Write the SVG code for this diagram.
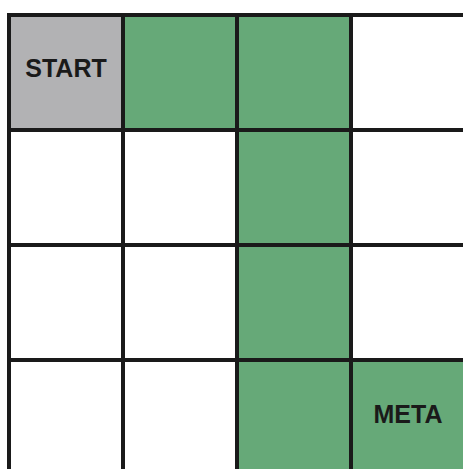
<svg xmlns="http://www.w3.org/2000/svg" width="463" height="469" viewBox="0 0 463 469">
<style>
.c{stroke:#1a1a1a;stroke-width:4;}
.w{fill:#ffffff;}
.g{fill:#66a978;}
.s{fill:#b2b2b4;}
.t{font-family:"Liberation Sans",Arial,sans-serif;font-weight:bold;font-size:25px;fill:#1a1a1a;text-anchor:middle;}
</style>
<rect width="463" height="469" fill="#ffffff"/>
<g id="cell-0-0"><rect class="c s" x="9" y="15" width="114" height="115"/><text class="t" x="66" y="77">START</text></g>
<g id="cell-0-1"><rect class="c g" x="123" y="15" width="114" height="115"/></g>
<g id="cell-0-2"><rect class="c g" x="237" y="15" width="114" height="115"/></g>
<g id="cell-0-3"><rect class="c w" x="351" y="15" width="114" height="115"/></g>
<g id="cell-1-0"><rect class="c w" x="9" y="130" width="114" height="115"/></g>
<g id="cell-1-1"><rect class="c w" x="123" y="130" width="114" height="115"/></g>
<g id="cell-1-2"><rect class="c g" x="237" y="130" width="114" height="115"/></g>
<g id="cell-1-3"><rect class="c w" x="351" y="130" width="114" height="115"/></g>
<g id="cell-2-0"><rect class="c w" x="9" y="245" width="114" height="115"/></g>
<g id="cell-2-1"><rect class="c w" x="123" y="245" width="114" height="115"/></g>
<g id="cell-2-2"><rect class="c g" x="237" y="245" width="114" height="115"/></g>
<g id="cell-2-3"><rect class="c w" x="351" y="245" width="114" height="115"/></g>
<g id="cell-3-0"><rect class="c w" x="9" y="360" width="114" height="115"/></g>
<g id="cell-3-1"><rect class="c w" x="123" y="360" width="114" height="115"/></g>
<g id="cell-3-2"><rect class="c g" x="237" y="360" width="114" height="115"/></g>
<g id="cell-3-3"><rect class="c g" x="351" y="360" width="114" height="115"/><text class="t" x="408" y="423">META</text></g>
<g id="connectors"></g>
</svg>
